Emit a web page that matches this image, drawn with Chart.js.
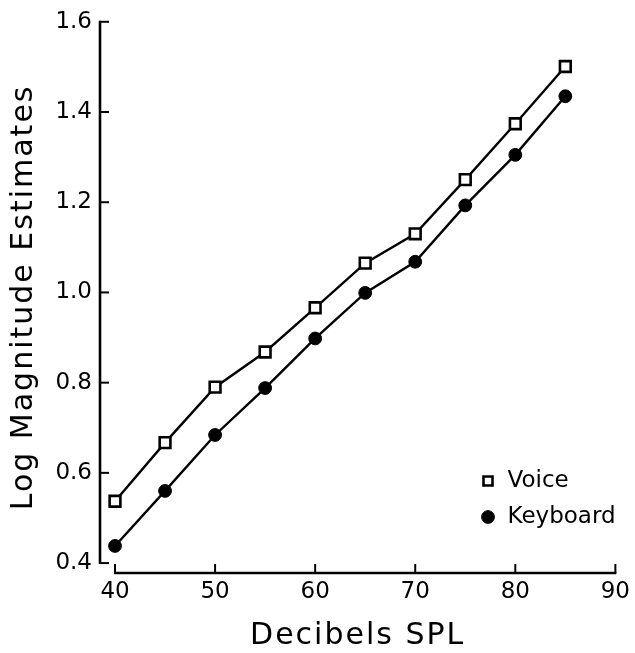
<!DOCTYPE html>
<html>
<head>
<meta charset="utf-8">
<script src="https://cdn.jsdelivr.net/npm/chart.js@4.4.1/dist/chart.umd.min.js"></script>
<style>
  html, body { margin: 0; padding: 0; background: #fff; }
  #wrap { width: 635px; height: 653px; position: relative; }
</style>
</head>
<body>
<div id="wrap"><canvas id="c"></canvas></div>
<script>
// ---- data ----
const decibels = [40, 45, 50, 55, 60, 65, 70, 75, 80, 85];
const voiceValues = [0.537, 0.667, 0.790, 0.868, 0.966, 1.065, 1.130, 1.250, 1.374, 1.501];
const keyboardValues = [0.438, 0.560, 0.684, 0.788, 0.898, 0.999, 1.068, 1.193, 1.305, 1.435];
const xTickValues = [40, 50, 60, 70, 80, 90];
const yTickValues = [0.4, 0.6, 0.8, 1.0, 1.2, 1.4, 1.6];
const xTitle = 'Decibels SPL';
const yTitle = 'Log Magnitude Estimates';
const seriesNames = ['Voice', 'Keyboard'];

const FONT = '"DejaVu Sans", sans-serif';

const toPoints = (vals) => vals.map((v, i) => ({ x: decibels[i], y: v }));

// detached axes with inward ticks, drawn from the scales
const axesPlugin = {
  id: 'detachedAxes',
  beforeDraw(chart) {
    Object.values(chart.scales).forEach(s => {
      if (s._lsWrapped) return;
      const orig = s.drawTitle;
      s.drawTitle = function () {
        const ctx = this.ctx;
        ctx.save();
        ctx.letterSpacing = '2px';
        orig.call(this);
        ctx.restore();
      };
      s._lsWrapped = true;
    });
  },
  afterDatasetsDraw(chart) {
    const { ctx, chartArea } = chart;
    const xs = chart.scales.x, ys = chart.scales.y;
    ctx.save();
    ctx.strokeStyle = '#000';
    // y axis
    const yTop = ys.getPixelForValue(yTickValues[yTickValues.length - 1]);
    const yBot = ys.getPixelForValue(yTickValues[0]);
    const ax = chartArea.left;
    ctx.lineWidth = 2.6;
    ctx.beginPath();
    ctx.moveTo(ax, yTop - 1);
    ctx.lineTo(ax, yBot + 1);
    ctx.stroke();
    ctx.lineWidth = 2;
    yTickValues.forEach(v => {
      const py = ys.getPixelForValue(v);
      ctx.beginPath();
      ctx.moveTo(ax, py);
      ctx.lineTo(ax + 9, py);
      ctx.stroke();
    });
    // x axis
    const xL = xs.getPixelForValue(xTickValues[0]);
    const xR = xs.getPixelForValue(xTickValues[xTickValues.length - 1]);
    const ay = chartArea.bottom;
    ctx.lineWidth = 2.6;
    ctx.beginPath();
    ctx.moveTo(xL - 1, ay);
    ctx.lineTo(xR + 1, ay);
    ctx.stroke();
    ctx.lineWidth = 2;
    xTickValues.forEach(v => {
      const px = xs.getPixelForValue(v);
      ctx.beginPath();
      ctx.moveTo(px, ay);
      ctx.lineTo(px, ay - 9);
      ctx.stroke();
    });
    ctx.restore();
  },
  afterLayout(chart) {
    const lg = chart.legend;
    if (!lg) return;
    lg.left = 467;
    lg.top = 456.5;
    lg.right = 635;
    lg.bottom = lg.top + 200;
    lg.width = lg.right - lg.left;
    lg.height = lg.bottom - lg.top;
  }
};

new Chart(document.getElementById('c'), {
  type: 'line',
  data: {
    datasets: [
      {
        label: seriesNames[0],
        data: toPoints(voiceValues),
        borderColor: '#000',
        borderWidth: 2.4,
        pointStyle: 'rect',
        pointRadius: 7.6,
        pointBackgroundColor: '#fff',
        pointBorderColor: '#000',
        pointBorderWidth: 2.6,
        tension: 0,
        fill: false
      },
      {
        label: seriesNames[1],
        data: toPoints(keyboardValues),
        borderColor: '#000',
        borderWidth: 2.4,
        pointStyle: 'circle',
        pointRadius: 6.4,
        pointBackgroundColor: '#000',
        pointBorderColor: '#000',
        pointBorderWidth: 1,
        tension: 0,
        fill: false
      }
    ]
  },
  options: {
    responsive: true,
    maintainAspectRatio: false,
    animation: false,
    layout: { padding: { left: 0, top: 17, right: 18, bottom: 0 } },
    plugins: {
      legend: {
        position: 'chartArea',
        align: 'start',
        labels: {
          usePointStyle: true,
          boxWidth: 16,
          boxHeight: 9,
          padding: 13,
          color: '#000',
          font: { family: FONT, size: 23 }
        }
      },
      tooltip: { enabled: false }
    },
    scales: {
      x: {
        type: 'linear',
        min: 38.5,
        max: 90,
        afterBuildTicks: (s) => { s.ticks = xTickValues.map(v => ({ value: v })); },
        afterFit: (s) => { s.height = 80; },
        grid: { display: false, drawTicks: false, tickLength: 0 },
        border: { display: false },
        ticks: {
          padding: 5,
          color: '#000',
          font: { family: FONT, size: 23 },
          callback: (v) => String(v)
        },
        title: {
          display: true,
          text: xTitle,
          color: '#000',
          padding: 0,
          font: { family: FONT, size: 30, lineHeight: 1.1 }
        }
      },
      y: {
        type: 'linear',
        min: 0.378,
        max: 1.6,
        afterBuildTicks: (s) => { s.ticks = yTickValues.map(v => ({ value: v })); },
        afterFit: (s) => { s.width = 100; },
        grid: { display: false, drawTicks: false, tickLength: 0 },
        border: { display: false },
        ticks: {
          padding: 8,
          color: '#000',
          font: { family: FONT, size: 23 },
          callback: (v) => Number(v).toFixed(1)
        },
        title: {
          display: true,
          text: yTitle,
          color: '#000',
          padding: { top: 6, bottom: 0 },
          font: { family: FONT, size: 30, lineHeight: 1.2 }
        }
      }
    }
  },
  plugins: [axesPlugin]
});
</script>
</body>
</html>
